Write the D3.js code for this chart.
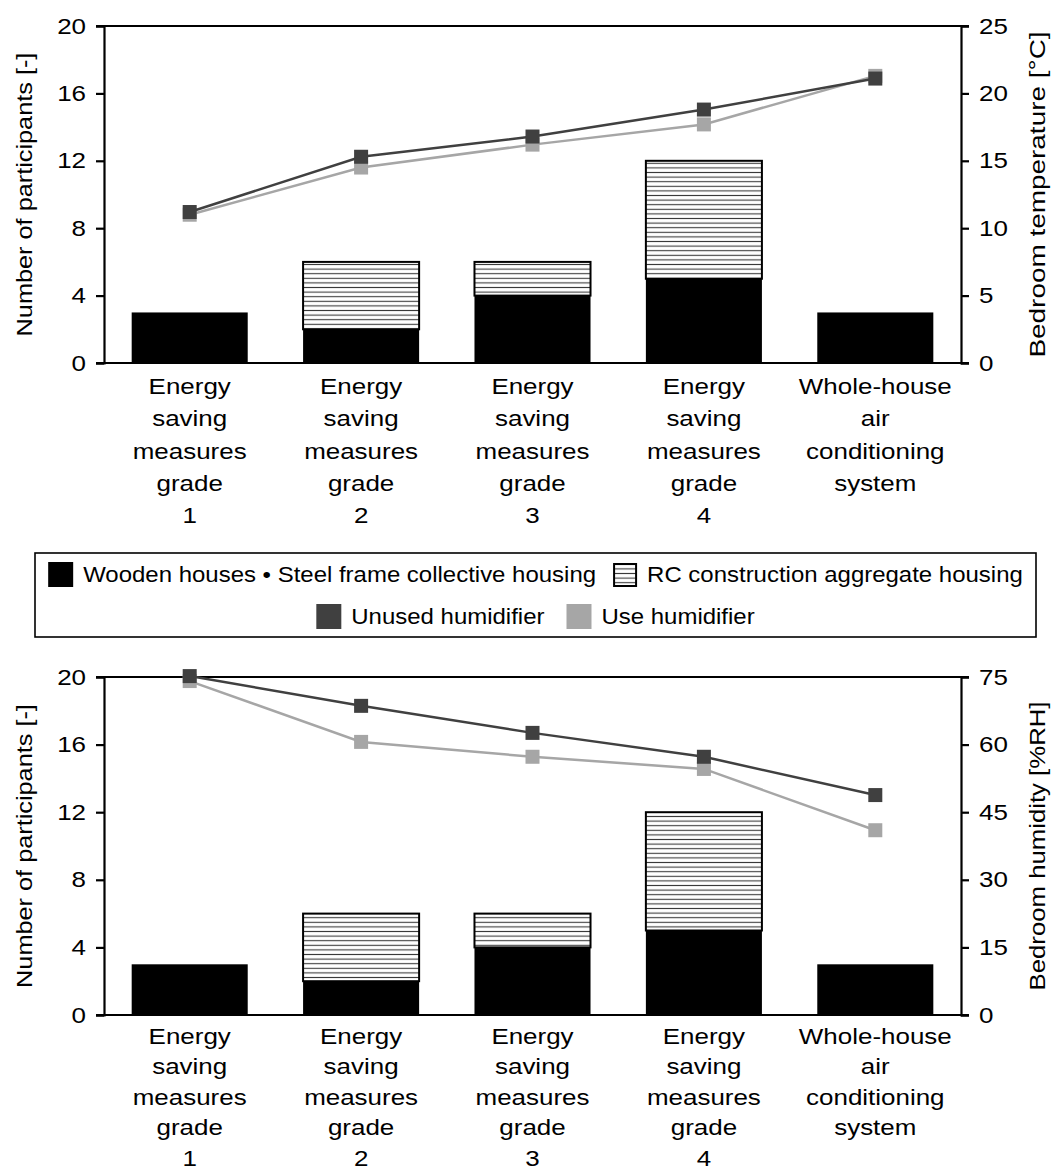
<!DOCTYPE html>
<html>
<head>
<meta charset="utf-8">
<script src="https://cdn.jsdelivr.net/npm/d3@7"></script>
<style>
  html, body { margin: 0; padding: 0; background: #fff; }
  svg { display: block; font-family: "Liberation Sans", Arial, sans-serif; }
</style>
</head>
<body>
<svg id="chart" width="1053" height="1173"></svg>
<script>
// Housing categories (multi-line x labels)
const categories = [
  ["Energy", "saving", "measures", "grade", "1"],
  ["Energy", "saving", "measures", "grade", "2"],
  ["Energy", "saving", "measures", "grade", "3"],
  ["Energy", "saving", "measures", "grade", "4"],
  ["Whole-house", "air", "conditioning", "system"]
];
// Participants per category
const woodSteel = [3, 2, 4, 5, 3];
const rcHousing = [0, 4, 2, 7, 0];
// Bedroom temperature [°C]
const tempUnused = [11.2, 15.3, 16.8, 18.8, 21.1];
const tempUse = [11.0, 14.5, 16.2, 17.7, 21.3];
// Bedroom humidity [%RH]
const humUnused = [75.2, 68.6, 62.6, 57.3, 48.8];
const humUse = [74.1, 60.6, 57.3, 54.6, 41.0];
// Axis ticks
const leftTicks = [0, 4, 8, 12, 16, 20];
const tempTicks = [0, 5, 10, 15, 20, 25];
const humTicks = [0, 15, 30, 45, 60, 75];
// Legend entries
const legendRow1 = ["Wooden houses \u2022 Steel frame collective housing", "RC construction aggregate housing"];
const legendRow2 = ["Unused humidifier", "Use humidifier"];

const COL_DARK = "#404040", COL_LIGHT = "#a6a6a6";
const FONT = 22;
const WIDE = 1.18;     // horizontal widening of the label face
const WIDE_LEG = 1.09; // widening used in the legend

// Widen a text element horizontally around its anchor x
function widen(sel, ax, s) {
  sel.attr("transform", `translate(${ax},0) scale(${s},1) translate(${-ax},0)`);
}

const svg = d3.select("#chart");
const defs = svg.append("defs");
const pat = defs.append("pattern")
  .attr("id", "hatch").attr("patternUnits", "userSpaceOnUse")
  .attr("width", 8).attr("height", 4.6);
pat.append("rect").attr("width", 8).attr("height", 4.6).attr("fill", "#fff");
pat.append("line").attr("x1", 0).attr("x2", 8).attr("y1", 2.3).attr("y2", 2.3)
  .attr("stroke", "#3a3a3a").attr("stroke-width", 1.1);

const x = d3.scaleBand().domain(d3.range(categories.length)).range([104, 961]).paddingInner(0.323).paddingOuter(0.1615);

function drawPanel(opts) {
  const { top, bottom, rightTicks, rightMax, seriesUnused, seriesUse, rightTitle,
          labelStart, labelStep, leftStretch, rightStretch } = opts;
  const g = svg.append("g");
  const yL = d3.scaleLinear().domain([0, 20]).range([bottom, top]);
  const yR = d3.scaleLinear().domain([0, rightMax]).range([bottom, top]);

  // Stacked bars: RC hatched part above, wooden/steel solid part below
  categories.forEach((c, i) => {
    const total = woodSteel[i] + rcHousing[i];
    if (rcHousing[i] > 0) {
      g.append("rect")
        .attr("x", x(i)).attr("width", x.bandwidth())
        .attr("y", yL(total)).attr("height", yL(woodSteel[i]) - yL(total))
        .attr("fill", "url(#hatch)").attr("stroke", "#000").attr("stroke-width", 2);
    }
    g.append("rect")
      .attr("x", x(i)).attr("width", x.bandwidth())
      .attr("y", yL(woodSteel[i])).attr("height", yL(0) - yL(woodSteel[i]))
      .attr("fill", "#000");
  });

  // Frame: top line and bottom line
  g.append("line").attr("x1", 96).attr("x2", 969).attr("y1", top).attr("y2", top)
    .attr("stroke", "#000").attr("stroke-width", 2.2);
  g.append("line").attr("x1", 96).attr("x2", 969).attr("y1", bottom).attr("y2", bottom)
    .attr("stroke", "#000").attr("stroke-width", 2.2);

  // Left and right axes
  const axL = g.append("g").attr("transform", "translate(104,0)")
    .call(d3.axisLeft(yL).tickValues(leftTicks).tickSize(8).tickPadding(10).tickFormat(d3.format("d")));
  const axR = g.append("g").attr("transform", "translate(961,0)")
    .call(d3.axisRight(yR).tickValues(rightTicks).tickSize(8).tickPadding(10).tickFormat(d3.format("d")));
  [axL, axR].forEach(ax => {
    ax.select(".domain").attr("stroke", "#000").attr("stroke-width", 2.2);
    ax.selectAll(".tick line").attr("stroke", "#000").attr("stroke-width", 2.2);
    ax.selectAll(".tick text").attr("font-size", FONT).attr("fill", "#000")
      .attr("font-family", "Liberation Sans, Arial, sans-serif")
      .each(function () { widen(d3.select(this), +d3.select(this).attr("x"), WIDE); });
  });

  // Line series: light first, dark on top
  const cx = i => x(i) + x.bandwidth() / 2;
  [[seriesUse, COL_LIGHT], [seriesUnused, COL_DARK]].forEach(([vals, col]) => {
    g.append("path")
      .attr("d", d3.line().x((d, i) => cx(i)).y(d => yR(d))(vals))
      .attr("fill", "none").attr("stroke", col).attr("stroke-width", 2.5);
    g.selectAll(null).data(vals).enter().append("rect")
      .attr("x", (d, i) => cx(i) - 7).attr("y", d => yR(d) - 7)
      .attr("width", 14).attr("height", 14).attr("fill", col);
  });

  // Category labels
  categories.forEach((lines, i) => {
    const t = g.append("text").attr("text-anchor", "middle").attr("font-size", FONT).attr("fill", "#000");
    lines.forEach((ln, k) => {
      t.append("tspan").attr("x", cx(i)).attr("y", bottom + labelStart + k * labelStep).text(ln);
    });
    widen(t, cx(i), WIDE);
  });

  // Axis titles
  const mid = (top + bottom) / 2;
  g.append("text").attr("transform", `translate(32,${mid}) rotate(-90) scale(${leftStretch},1)`)
    .attr("text-anchor", "middle").attr("font-size", FONT).text("Number of participants [-]");
  g.append("text").attr("transform", `translate(1045,${mid}) rotate(-90) scale(${rightStretch},1)`)
    .attr("text-anchor", "middle").attr("font-size", FONT).text(rightTitle);
}

drawPanel({ top: 26, bottom: 363, rightTicks: tempTicks, rightMax: 25,
  seriesUnused: tempUnused, seriesUse: tempUse, rightTitle: "Bedroom temperature [°C]",
  labelStart: 31, labelStep: 32.3, leftStretch: 1.15, rightStretch: 1.27 });
drawPanel({ top: 677, bottom: 1015, rightTicks: humTicks, rightMax: 75,
  seriesUnused: humUnused, seriesUse: humUse, rightTitle: "Bedroom humidity [%RH]",
  labelStart: 29, labelStep: 30.5, leftStretch: 1.15, rightStretch: 1.17 });

// Legend
const lg = svg.append("g");
lg.append("rect").attr("x", 35).attr("y", 553).attr("width", 1001).attr("height", 84)
  .attr("fill", "#fff").attr("stroke", "#000").attr("stroke-width", 1.6);

function legendRow(items, y, swatches, gap) {
  const row = lg.append("g");
  let cursor = 0;
  items.forEach((label, k) => {
    const s = row.append("g").attr("transform", `translate(${cursor},${y})`);
    swatches[k](s);
    const t = s.append("text").attr("x", 35).attr("y", 20).attr("font-size", FONT).text(label);
    widen(t, 35, WIDE_LEG);
    cursor += 35 + t.node().getComputedTextLength() * WIDE_LEG + gap;
  });
  const width = cursor - gap;
  row.attr("transform", `translate(${35 + (1001 - width) / 2},0)`);
}
legendRow(legendRow1, 562, [
  s => s.append("rect").attr("width", 25).attr("height", 25).attr("fill", "#000"),
  s => s.append("rect").attr("x", 2).attr("y", 2).attr("width", 22).attr("height", 22)
        .attr("fill", "url(#hatch)").attr("stroke", "#000").attr("stroke-width", 2)
], 16);
legendRow(legendRow2, 604, [
  s => s.append("rect").attr("width", 25).attr("height", 25).attr("fill", COL_DARK),
  s => s.append("rect").attr("width", 25).attr("height", 25).attr("fill", COL_LIGHT)
], 22);
</script>
</body>
</html>
